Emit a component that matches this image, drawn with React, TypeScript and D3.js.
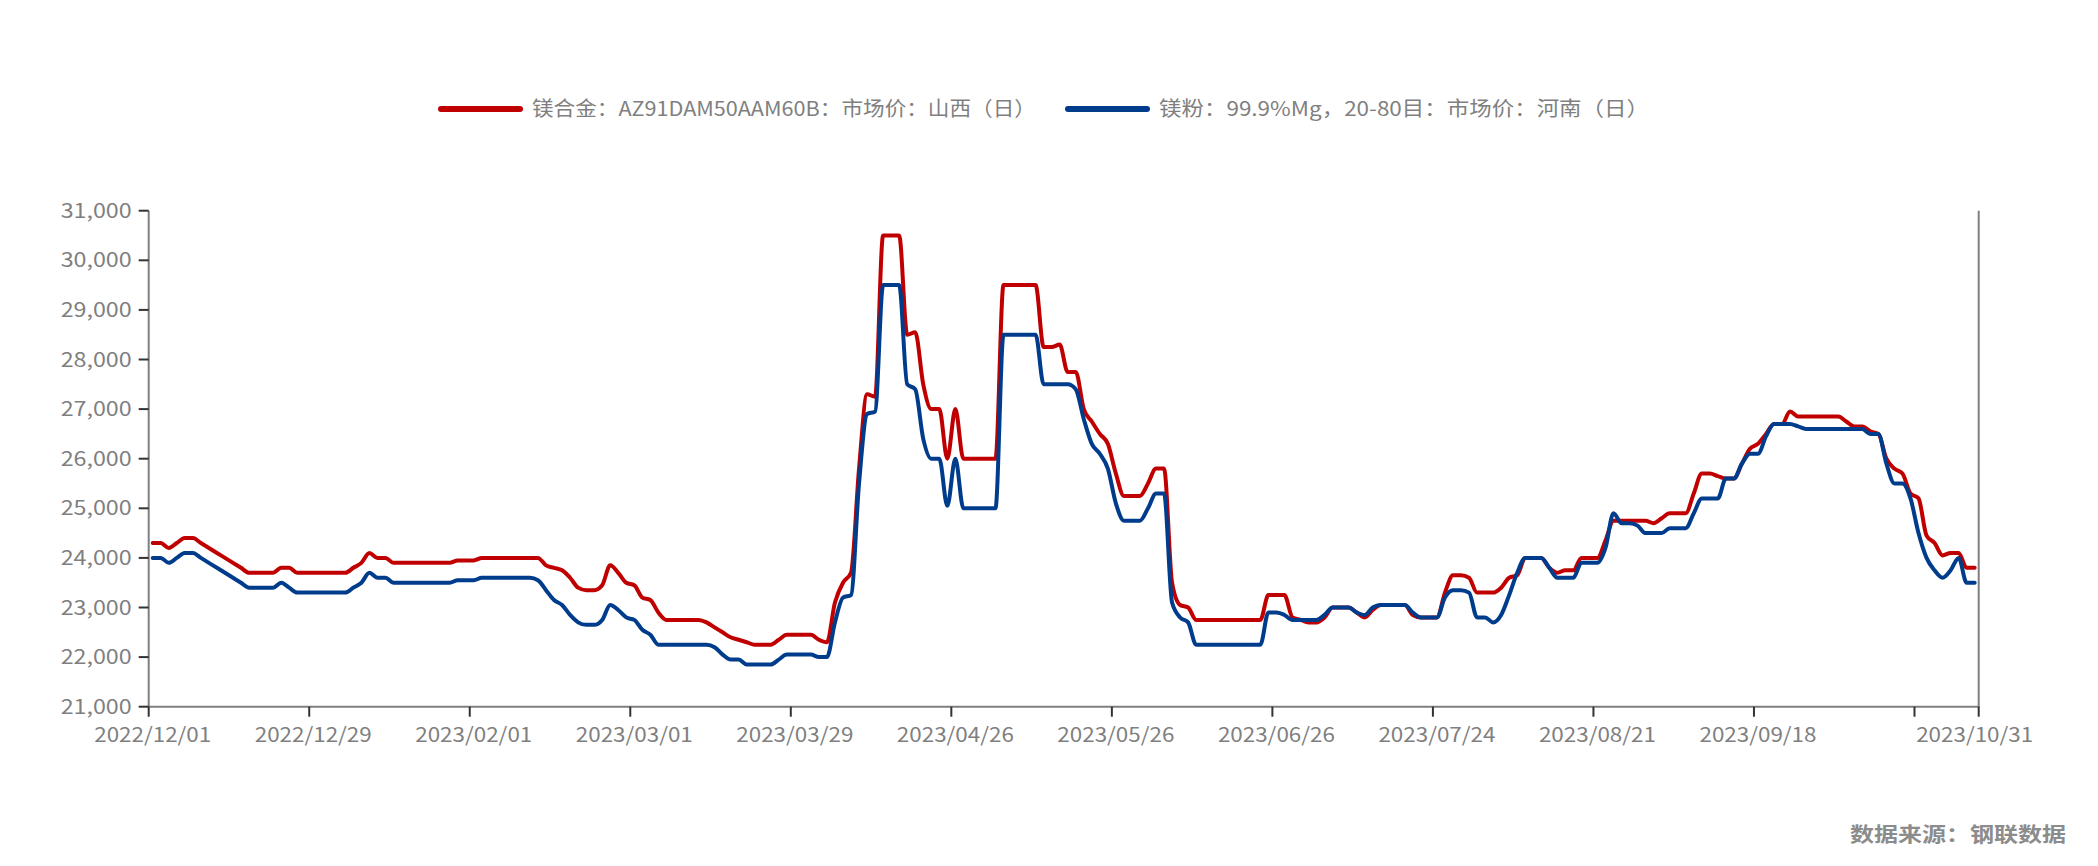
import { useEffect, useRef } from "react";
import * as d3 from "d3";

// 镁合金 AZ91D 山西 (元/吨), one value per trading day 2022/12/01 - 2023/10/31
const alloyPrice: number[] = [
  24300, 24300, 24200, 24300, 24400, 24400, 24300, 24200, 24100, 24000, 23900, 23800, 23700, 23700, 23700, 23700, 23800, 23800, 23700, 23700,
  23700, 23700, 23700, 23700, 23700, 23800, 23900, 24100, 24000, 24000, 23900, 23900, 23900, 23900, 23900, 23900, 23900, 23900, 23950, 23950,
  23950, 24000, 24000, 24000, 24000, 24000, 24000, 24000, 24000, 23850, 23800, 23750, 23600, 23400, 23350, 23350, 23450, 23850, 23700, 23500,
  23450, 23200, 23150, 22900, 22750, 22750, 22750, 22750, 22750, 22700, 22600, 22500, 22400, 22350, 22300, 22250, 22250, 22250, 22350, 22450,
  22450, 22450, 22450, 22350, 22300, 23100, 23500, 23700, 25800, 27300, 27250, 30500, 30500, 30500, 28500, 28550, 27500, 27000, 27000, 26000,
  27000, 26000, 26000, 26000, 26000, 26000, 29500, 29500, 29500, 29500, 29500, 28250, 28250, 28300, 27750, 27750, 27000, 26750, 26500, 26300,
  25700, 25250, 25250, 25250, 25500, 25800, 25800, 23500, 23050, 23000, 22750, 22750, 22750, 22750, 22750, 22750, 22750, 22750, 22750, 23250,
  23250, 23250, 22800, 22750, 22700, 22700, 22800, 23000, 23000, 23000, 22900, 22800, 22950, 23050, 23050, 23050, 23050, 22850, 22800, 22800,
  22800, 23300, 23650, 23650, 23600, 23300, 23300, 23300, 23400, 23600, 23650, 24000, 24000, 24000, 23800, 23700, 23750, 23750, 24000, 24000,
  24000, 24350, 24750, 24750, 24750, 24750, 24750, 24700, 24800, 24900, 24900, 24900, 25300, 25700, 25700, 25650, 25600, 25600, 25900, 26200,
  26300, 26500, 26700, 26700, 26950, 26850, 26850, 26850, 26850, 26850, 26850, 26750, 26650, 26650, 26550, 26500, 26000, 25800, 25700, 25300,
  25200, 24450, 24300, 24050, 24100, 24100, 23800, 23800,
];

// 镁粉 99.9%Mg 20-80目 河南 (元/吨)
const powderPrice: number[] = [
  24000, 24000, 23900, 24000, 24100, 24100, 24000, 23900, 23800, 23700, 23600, 23500, 23400, 23400, 23400, 23400, 23500, 23400, 23300, 23300,
  23300, 23300, 23300, 23300, 23300, 23400, 23500, 23700, 23600, 23600, 23500, 23500, 23500, 23500, 23500, 23500, 23500, 23500, 23550, 23550,
  23550, 23600, 23600, 23600, 23600, 23600, 23600, 23600, 23550, 23350, 23150, 23050, 22850, 22700, 22650, 22650, 22750, 23050, 22950, 22800,
  22750, 22550, 22450, 22250, 22250, 22250, 22250, 22250, 22250, 22250, 22200, 22050, 21950, 21950, 21850, 21850, 21850, 21850, 21950, 22050,
  22050, 22050, 22050, 22000, 22000, 22700, 23200, 23250, 25500, 26900, 26950, 29500, 29500, 29500, 27500, 27400, 26400, 26000, 26000, 25050,
  26000, 25000, 25000, 25000, 25000, 25000, 28500, 28500, 28500, 28500, 28500, 27500, 27500, 27500, 27500, 27400, 26800, 26300, 26100, 25800,
  25100, 24750, 24750, 24750, 25000, 25300, 25300, 23100, 22800, 22700, 22250, 22250, 22250, 22250, 22250, 22250, 22250, 22250, 22250, 22900,
  22900, 22850, 22750, 22750, 22750, 22750, 22850, 23000, 23000, 23000, 22900, 22850, 23000, 23050, 23050, 23050, 23050, 22900, 22800, 22800,
  22800, 23200, 23350, 23350, 23300, 22800, 22800, 22700, 22850, 23250, 23700, 24000, 24000, 24000, 23800, 23600, 23600, 23600, 23900, 23900,
  23900, 24200, 24900, 24700, 24700, 24650, 24500, 24500, 24500, 24600, 24600, 24600, 24900, 25200, 25200, 25200, 25600, 25600, 25900, 26100,
  26100, 26450, 26700, 26700, 26700, 26650, 26600, 26600, 26600, 26600, 26600, 26600, 26600, 26600, 26500, 26500, 25900, 25500, 25500, 25200,
  24500, 24000, 23750, 23600, 23750, 24000, 23500, 23500,
];

const seriesNames = [
  "镁合金：AZ91DAM50AAM60B：市场价：山西（日）",
  "镁粉：99.9%Mg，20-80目：市场价：河南（日）",
];
const seriesColors = ["#C00000", "#003C8C"];

const yTicks = [21000, 22000, 23000, 24000, 25000, 26000, 27000, 28000, 29000, 30000, 31000];
const xTickIndex = [0, 20, 40, 60, 80, 100, 120, 140, 160, 180, 200, 220];
const xLabelIndex = [0, 20, 40, 60, 80, 100, 120, 140, 160, 180, 200, 227];
const xLabels = [
  "2022/12/01", "2022/12/29", "2023/02/01", "2023/03/01", "2023/03/29", "2023/04/26",
  "2023/05/26", "2023/06/26", "2023/07/24", "2023/08/21", "2023/09/18", "2023/10/31",
];

const FONT = "'Noto Sans CJK SC', 'Noto Sans', sans-serif";
const GREY = "#7f7f7f";

export default function App() {
  const svgRef = useRef<SVGSVGElement>(null);

  useEffect(() => {
    if (!svgRef.current) return;

    const left = 148.7;
    const right = 1978.7;
    const top = 210.7;
    const bottom = 706.7;

    const x = d3.scaleLinear().domain([0, alloyPrice.length]).range([left, right]);
    const y = d3.scaleLinear().domain([21000, 31000]).range([bottom, top]);

    const svg = d3.select(svgRef.current);
    svg.selectAll("*").remove();

    // series
    const line = d3
      .line<number>()
      .x((d, i) => x(i + 0.5))
      .y((d) => y(d))
      .curve(d3.curveMonotoneX);

    [alloyPrice, powderPrice].forEach((values, k) => {
      svg
        .append("path")
        .datum(values)
        .attr("d", line)
        .attr("fill", "none")
        .attr("stroke", seriesColors[k])
        .attr("stroke-width", 4)
        .attr("stroke-linejoin", "round")
        .attr("stroke-linecap", "round");
    });

    // axis lines
    svg.append("line")
      .attr("x1", left).attr("x2", left).attr("y1", top).attr("y2", bottom)
      .attr("stroke", GREY).attr("stroke-width", 2);
    svg.append("line")
      .attr("x1", right).attr("x2", right).attr("y1", top).attr("y2", bottom)
      .attr("stroke", GREY).attr("stroke-width", 2);
    svg.append("line")
      .attr("x1", left - 1).attr("x2", right + 1).attr("y1", bottom).attr("y2", bottom)
      .attr("stroke", GREY).attr("stroke-width", 2);

    // y ticks + labels
    svg.selectAll(".ytick")
      .data(yTicks)
      .enter()
      .append("line")
      .attr("x1", left - 10).attr("x2", left)
      .attr("y1", (d) => y(d)).attr("y2", (d) => y(d))
      .attr("stroke", "#333").attr("stroke-width", 2);

    svg.selectAll(".ylabel")
      .data(yTicks)
      .enter()
      .append("text")
      .attr("x", left - 17)
      .attr("y", (d) => y(d) + 7)
      .attr("text-anchor", "end")
      .attr("font-family", FONT)
      .attr("font-size", 20)
      .attr("fill", GREY)
      .attr("textLength", 71)
      .attr("lengthAdjust", "spacingAndGlyphs")
      .text((d) => d3.format(",")(d));

    // x ticks + labels
    svg.selectAll(".xtick")
      .data([...xTickIndex, alloyPrice.length])
      .enter()
      .append("line")
      .attr("x1", (d) => x(d)).attr("x2", (d) => x(d))
      .attr("y1", bottom).attr("y2", bottom + 10)
      .attr("stroke", "#333").attr("stroke-width", 2);

    svg.selectAll(".xlabel")
      .data(xLabelIndex)
      .enter()
      .append("text")
      .attr("x", (d) => x(d + 0.5))
      .attr("y", 741.5)
      .attr("text-anchor", "middle")
      .attr("font-family", FONT)
      .attr("font-size", 20)
      .attr("fill", GREY)
      .attr("textLength", 117)
      .attr("lengthAdjust", "spacingAndGlyphs")
      .text((d, i) => xLabels[i]);

    // legend
    const legend = [
      { x: 441, textLength: 504 },
      { x: 1068, textLength: 490 },
    ];
    legend.forEach((l, k) => {
      svg.append("line")
        .attr("x1", l.x).attr("x2", l.x + 79).attr("y1", 109).attr("y2", 109)
        .attr("stroke", seriesColors[k]).attr("stroke-width", 6)
        .attr("stroke-linecap", "round");
      svg.append("text")
        .attr("x", l.x + 91)
        .attr("y", 116)
        .attr("font-family", FONT)
        .attr("font-size", 20)
        .attr("fill", GREY)
        .attr("textLength", l.textLength)
        .attr("lengthAdjust", "spacingAndGlyphs")
        .text(seriesNames[k]);
    });

    // source note
    svg.append("text")
      .attr("x", 1850)
      .attr("y", 842)
      .attr("font-family", FONT)
      .attr("font-size", 20)
      .attr("font-weight", 700)
      .attr("fill", "#8c8c8c")
      .attr("textLength", 216)
      .attr("lengthAdjust", "spacingAndGlyphs")
      .text("数据来源：钢联数据");
  }, []);

  return (
    <svg
      ref={svgRef}
      width={2098}
      height={866}
      style={{ position: "absolute", left: 0, top: 0, background: "#fff" }}
    />
  );
}
